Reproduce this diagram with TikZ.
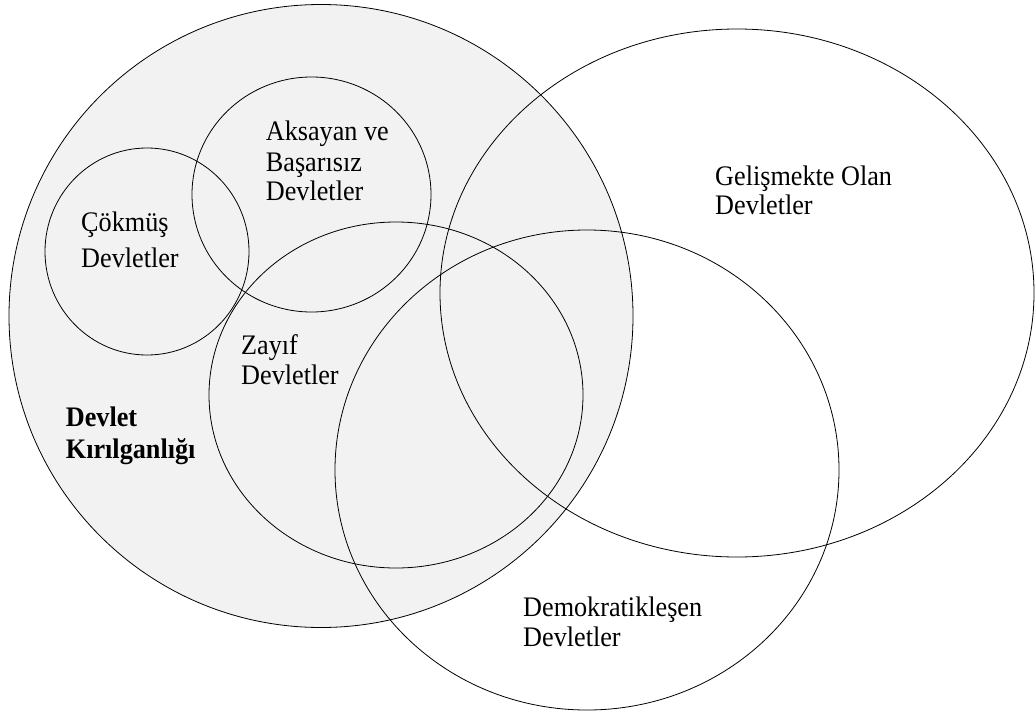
\documentclass[tikz,border=0pt]{standalone}
\usepackage{fontspec}
\setmainfont{Liberation Serif}
\newcommand{\tallt}[1]{\scalebox{1}[1.08]{#1}}
\begin{document}
\begin{tikzpicture}[x=1pt,y=-1pt,
  outline/.style={draw=black,line width=0.8pt},
  lbl/.style={anchor=base west,inner sep=0pt,font=\fontsize{26.2}{30}\selectfont},
  blbl/.style={lbl,font=\fontsize{26.2}{30}\selectfont\bfseries}]
\useasboundingbox[fill=white] (0,0) rectangle (1036,712);
% filled big circle
\fill[fill={rgb,255:red,242;green,242;blue,242}] (321,316) ellipse [x radius=312pt,y radius=311.5pt];
% outlines
\draw[outline] (321,316) ellipse [x radius=312pt,y radius=311.5pt];
\draw[outline] (147,251.5) ellipse [x radius=102pt,y radius=103.5pt];
\draw[outline] (311.5,194.5) ellipse [x radius=119.5pt,y radius=117.5pt];
\draw[outline] (396,395) ellipse [x radius=187pt,y radius=173pt];
\draw[outline] (587,470) ellipse [x radius=252pt,y radius=240pt];
\draw[outline] (737,293) ellipse [x radius=297pt,y radius=264pt];
% labels
\node[lbl] (aks1) at (265.7,140.7) {\tallt{Aksayan ve}};
\node[lbl] (aks2) at (265.7,171) {\tallt{Başarısız}};
\node[lbl] (aks3) at (265.7,200.7) {\tallt{Devletler}};
\node[lbl] (cok1) at (81,231) {\tallt{Çökmüş}};
\node[lbl] (cok2) at (81,267.5) {\tallt{Devletler}};
\node[lbl] (zay1) at (241,354.3) {\tallt{Zayıf}};
\node[lbl] (zay2) at (241,384) {\tallt{Devletler}};
\node[blbl] (kir1) at (65.7,426.7) {\tallt{Devlet}};
\node[blbl] (kir2) at (65.7,458) {\tallt{Kırılganlığı}};
\node[lbl] (gel1) at (715,185) {\tallt{Gelişmekte Olan}};
\node[lbl] (gel2) at (715,214) {\tallt{Devletler}};
\node[lbl] (dem1) at (523,616) {\tallt{Demokratikleşen}};
\node[lbl] (dem2) at (523,646) {\tallt{Devletler}};
\end{tikzpicture}
\end{document}
